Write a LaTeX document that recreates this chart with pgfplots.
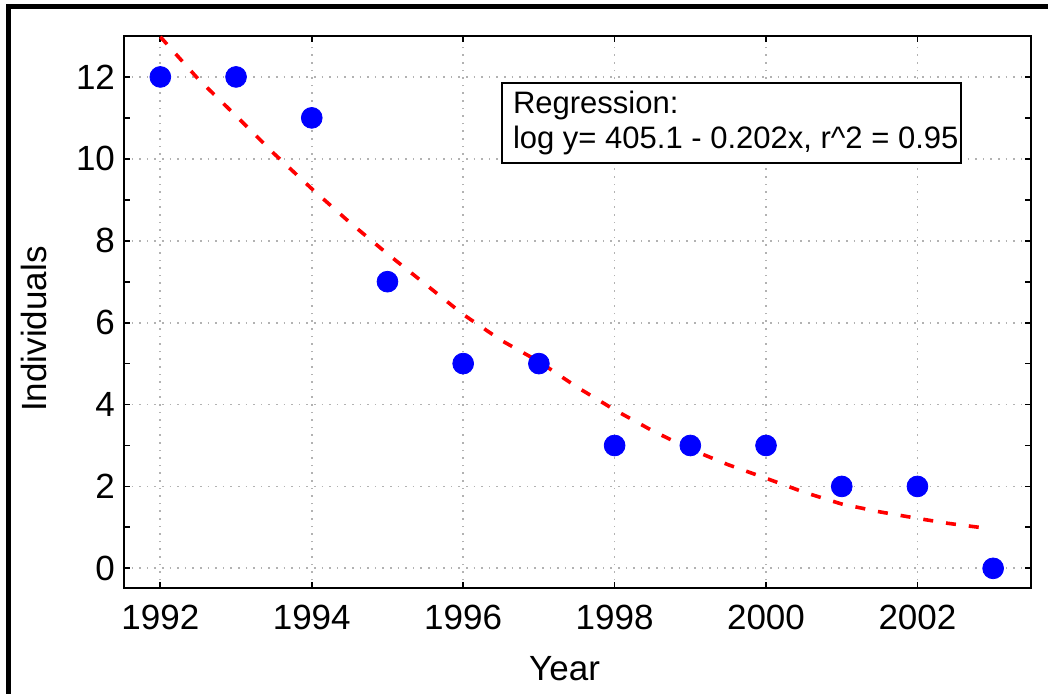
\documentclass[border=0pt]{standalone}
\usepackage{fontspec}
\setmainfont{Liberation Sans}
\usepackage{pgfplots}
\pgfplotsset{compat=1.18}

\begin{document}
\begin{tikzpicture}[x=1pt,y=1pt]
% page area and the heavy outer frame
\path[use as bounding box] (-62,-53) rectangle (462,294);
\draw[line width=2.5pt] (-57.5,-80) -- (-57.5,290.5) -- (490,290.5);
\begin{axis}[
  at={(0,0)}, anchor=south west,
  scale only axis, width=453.5pt, height=276pt,
  xmin=1991.52, xmax=2003.5,
  ymin=-0.48, ymax=13,
  xtick={1992,1994,...,2002},
  ytick={0,2,...,12},
  minor x tick num=1, minor y tick num=1,
  tick align=inside,
  major tick length=3pt, minor tick length=3pt,
  tick style={black, line width=0.9pt},
  axis line style={line width=1pt},
  grid=major,
  major grid style={draw=black!30, line width=0.9pt, dash pattern=on 0.8pt off 3pt},
  /pgf/number format/assume math mode=true,
  /pgf/number format/1000 sep={},
  ticklabel style={font=\fontsize{17.5}{20}\selectfont},
  xticklabel style={yshift=-5pt},
  yticklabel style={xshift=-1pt},
  label style={font=\fontsize{17.5}{20}\selectfont},
  xlabel={Year},
  ylabel={Individuals},
  xlabel style={at={(axis description cs:0.4857,-0.168)}, anchor=base},
  ylabel style={at={(axis description cs:-0.0849,0.469)}, anchor=base},
  clip=false,
]
% fitted regression curve
\addplot[red, line width=1.8pt, dash pattern=on 5pt off 6.5pt] coordinates {
  (1992.0,12.98) (1992.5,11.95) (1993.0,11.05) (1993.5,10.13)
  (1994.0,9.27) (1994.5,8.45) (1995.0,7.68) (1995.5,6.94)
  (1996.0,6.20) (1996.5,5.57) (1997.0,5.05) (1997.5,4.43)
  (1998.0,3.87) (1998.5,3.36) (1999.0,2.91) (1999.5,2.53)
  (2000.0,2.20) (2000.5,1.86) (2001.0,1.57) (2001.5,1.38)
  (2002.0,1.22) (2002.4,1.10) (2002.82,1.00)
};
% observed counts
\addplot[only marks, mark=*, mark size=5.2pt, color=blue, mark options={fill=blue, draw=blue}] coordinates {
  (1992,12) (1993,12) (1994,11) (1995,7) (1996,5) (1997,5)
  (1998,3) (1999,3) (2000,3) (2001,2) (2002,2) (2003,0)
};
\node[draw=black, line width=1pt, fill=white, anchor=north west, align=left,
      inner xsep=1.5pt, inner ysep=4pt,
      font=\fontsize{15.5}{17.5}\selectfont]
  at (rel axis cs:0.4157,0.9167)
  {\hspace*{4pt}Regression:\\\hspace*{4pt}log y= 405.1 - 0.202x, r\textasciicircum 2 = 0.95};
\end{axis}
\end{tikzpicture}
\end{document}
